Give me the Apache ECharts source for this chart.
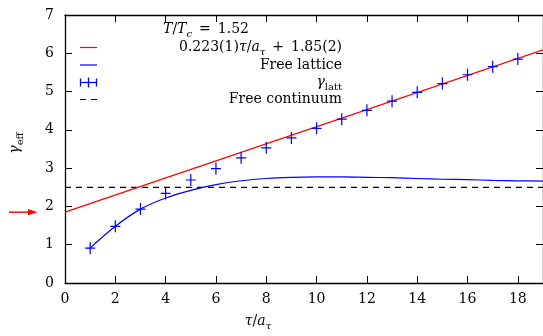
<!DOCTYPE html>
<html>
<head>
<meta charset="utf-8">
<script src="https://cdn.jsdelivr.net/npm/echarts@6/dist/echarts.min.js"></script>
<style>
html,body{margin:0;padding:0;background:#fff;}
#c{width:543px;height:336px;}
</style>
</head>
<body>
<div id="c"></div>
<script>
// ---- data ----
const latticeX = [1,2,3,4,5,6,7,8,9,10,11,12,13,14,15,16,17,18];
const latticeY = [0.91,1.48,1.93,2.34,2.69,2.99,3.27,3.53,3.79,4.04,4.28,4.51,4.75,4.98,5.21,5.44,5.65,5.85];
const freeLatX = [1,2,3,4,5,6,7,8,9,10,11,12,13,14,15,16,17,18,19];
const freeLatY = [0.91,1.48,1.93,2.22,2.42,2.57,2.67,2.73,2.76,2.77,2.77,2.76,2.75,2.73,2.71,2.70,2.68,2.67,2.66];
const fitX = [0, 19];
const fitY = [1.85, 6.09];
const contX = [0, 19];
const contY = [2.5, 2.5];
const arrowValue = [1.85];
const xTicks = [0,2,4,6,8,10,12,14,16,18];
const yTicks = [0,1,2,3,4,5,6,7];

const FONT = '"DejaVu Serif", "Liberation Serif", serif';
const FS = 14;
const zip = (a,b) => a.map((v,i)=>[v,b[i]]);

const chart = echarts.init(document.getElementById('c'), null, {renderer:'canvas'});

const mathRich = {
  n:{fontFamily:FONT,fontSize:FS,color:'#000',lineHeight:20},
  i:{fontFamily:FONT,fontSize:FS,fontStyle:'italic',color:'#000',lineHeight:20},
  s:{fontFamily:FONT,fontSize:10,fontStyle:'italic',color:'#000',lineHeight:9,verticalAlign:'bottom'},
  su:{fontFamily:FONT,fontSize:10,color:'#000',lineHeight:9,verticalAlign:'bottom'},
  r:{fontFamily:FONT,fontSize:FS,color:'#ff0000',lineHeight:20}
};

const axisCommon = {
  axisLine:{show:true,onZero:false,lineStyle:{color:'#000',width:1.3}},
  axisTick:{show:true,inside:true,length:7,lineStyle:{color:'#000',width:1}},
  splitLine:{show:false}
};

const plusPath = 'path://M0,5.4H10V6.6H0Z M4.4,0H5.6V12H4.4Z';

const legendX0 = 80, legendX1 = 97, textRight = 342;
const rowY = [47.5, 65, 82.5, 99.5];

const graphics = [
  {type:'text', x:206, y:29, style:{text:'{i|T}{n|/}{i|T}{s|c}{n|\u2002=\u20021.52}', rich:mathRich, align:'center', verticalAlign:'middle'}},
  {type:'line', shape:{x1:legendX0,y1:rowY[0],x2:legendX1,y2:rowY[0]}, style:{stroke:'#ff0000',lineWidth:1.2}},
  {type:'text', x:textRight, y:rowY[0], style:{text:'{n|0.223(1)}{i|τ}{n|/}{i|a}{s|τ}{n|\u2002+\u2002}{r|1.85(2)}', rich:mathRich, align:'right', verticalAlign:'middle'}},
  {type:'line', shape:{x1:legendX0,y1:rowY[1],x2:legendX1,y2:rowY[1]}, style:{stroke:'#0000ff',lineWidth:1.2}},
  {type:'text', x:textRight, y:rowY[1], style:{text:'Free lattice', font:FS+'px '+FONT, fill:'#000', align:'right', verticalAlign:'middle'}},
  {type:'line', shape:{x1:legendX0,y1:rowY[2],x2:legendX1,y2:rowY[2]}, style:{stroke:'#0000ff',lineWidth:1.3}},
  {type:'line', shape:{x1:legendX0+0.5,y1:rowY[2]-4,x2:legendX0+0.5,y2:rowY[2]+4}, style:{stroke:'#0000ff',lineWidth:1.3}},
  {type:'line', shape:{x1:(legendX0+legendX1)/2,y1:rowY[2]-5,x2:(legendX0+legendX1)/2,y2:rowY[2]+5}, style:{stroke:'#0000ff',lineWidth:1.3}},
  {type:'line', shape:{x1:legendX1-0.5,y1:rowY[2]-4,x2:legendX1-0.5,y2:rowY[2]+4}, style:{stroke:'#0000ff',lineWidth:1.3}},
  {type:'text', x:textRight, y:rowY[2], style:{text:'{i|γ}{su|latt}', rich:mathRich, align:'right', verticalAlign:'middle'}},
  {type:'line', shape:{x1:legendX0,y1:rowY[3],x2:legendX1,y2:rowY[3]}, style:{stroke:'#000',lineWidth:1.2,lineDash:[6,5]}},
  {type:'text', x:textRight, y:rowY[3], style:{text:'Free continuum', font:FS+'px '+FONT, fill:'#000', align:'right', verticalAlign:'middle'}}
];

const option = {
  animation:false,
  backgroundColor:'#fff',
  grid:{left:61, top:15, width:484, height:269.5, containLabel:false},
  xAxis:[
    Object.assign({}, axisCommon, {type:'value', position:'bottom', min:0, max:19, interval:2,
      axisLabel:{show:true, margin:9, fontFamily:FONT, fontSize:FS, color:'#000', showMaxLabel:false,
        formatter:v => xTicks.includes(v) ? String(v) : ''},
      name:'{i|τ}{n|/}{i|a}{s|τ}', nameLocation:'middle', nameGap:28,
      nameTextStyle:{rich:mathRich, padding:[0,92,0,0]}}),
    Object.assign({}, axisCommon, {type:'value', position:'top', min:0, max:19, interval:2,
      axisLabel:{show:false}})
  ],
  yAxis:[
    Object.assign({}, axisCommon, {type:'value', position:'left', min:0, max:7, interval:1,
      axisLabel:{show:true, margin:11, fontFamily:FONT, fontSize:FS, color:'#000',
        formatter:v => yTicks.includes(v) ? String(v) : ''},
      name:'{i|γ}{su|eff}', nameLocation:'middle', nameGap:40, nameRotate:90,
      nameTextStyle:{rich:mathRich, padding:[0,0,0,12]}}),
    Object.assign({}, axisCommon, {type:'value', position:'right', min:0, max:7, interval:1,
      axisLabel:{show:false}})
  ],
  series:[
    {type:'line', name:'fit', data:zip(fitX,fitY), showSymbol:false, symbol:'none',
      lineStyle:{color:'#ff0000', width:1.2}, z:3},
    {type:'line', name:'Free lattice', data:zip(freeLatX,freeLatY), showSymbol:false, symbol:'none', smooth:0.35,
      lineStyle:{color:'#0000ff', width:1.2}, z:2},
    {type:'scatter', name:'latt', data:zip(latticeX,latticeY), symbol:plusPath, symbolSize:[10,12],
      itemStyle:{color:'#0000ff', opacity:1}, z:4},
    {type:'line', name:'Free continuum', data:zip(contX,contY), showSymbol:false, symbol:'none',
      lineStyle:{color:'#000', width:1.2, type:[6,5]}, z:1}
  ],
  graphic: graphics
};

chart.setOption(option);

// red arrow at the fitted intercept, placed via the y scale
const ay = chart.convertToPixel({yAxisIndex:0}, arrowValue[0]);
chart.setOption({graphic: graphics.concat([
  {type:'line', shape:{x1:9, y1:ay, x2:31, y2:ay}, style:{stroke:'#ff0000', lineWidth:1.4}},
  {type:'polygon', shape:{points:[[37.5,ay],[28,ay-3.2],[28,ay+3.2]]}, style:{fill:'#ff0000'}}
])});
</script>
</body>
</html>
